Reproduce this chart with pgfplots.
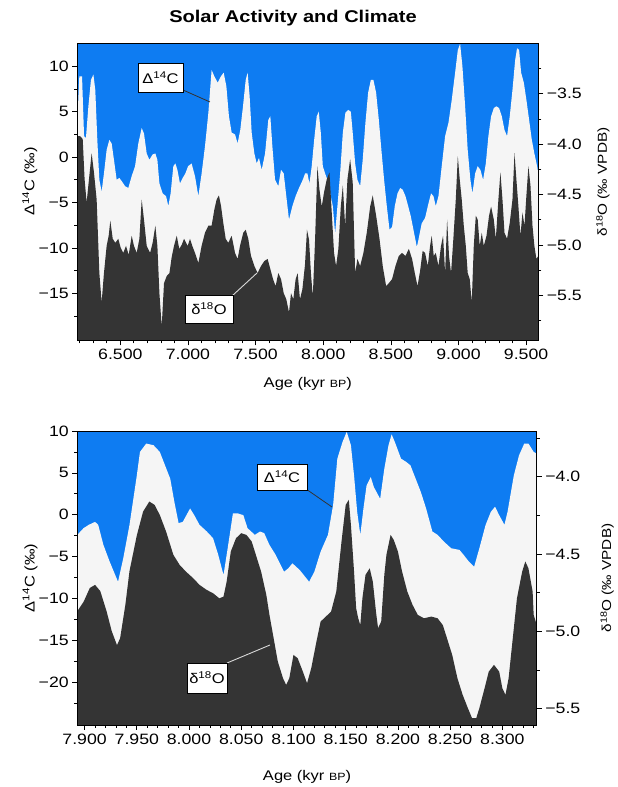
\documentclass[border=0pt]{standalone}
\usepackage{fontspec}
\setmainfont{Liberation Sans}[FakeStretch=1.18]
\usepackage{pgfplots}
\usepackage{pgfplotstable}
\pgfplotsset{compat=1.18}
\definecolor{skyb}{RGB}{14,124,242}
\definecolor{darkf}{RGB}{52,52,52}
\definecolor{whitef}{RGB}{245,245,245}

% top panel: Delta14C (permil)
\pgfplotstableread[row sep=\\]{
x y\\
6182 -30\\ 6182 3.8\\ 6197 8.9\\ 6217 8.9\\ 6232 2.3\\ 6246 2.1\\ 6264 5.6\\ 6283 8.5\\ 6301 9.1\\ 6315 7.4\\
6330 1.9\\ 6345 -2.5\\ 6362 -3.8\\ 6379 -1.8\\ 6399 0.8\\ 6419 1.9\\ 6436 1.5\\ 6453 -0.3\\ 6473 -2.5\\ 6493 -2.3\\
6513 -2.7\\ 6535 -3.2\\ 6559 -3.4\\ 6584 -2.1\\ 6609 -1.0\\ 6633 1.5\\ 6658 3.2\\ 6675 2.6\\ 6695 0.4\\ 6715 -0.3\\
6739 0.3\\ 6759 0.4\\ 6774 -0.3\\ 6789 -2.9\\ 6813 -4.0\\ 6838 -4.3\\ 6855 -5.4\\ 6872 -4.0\\ 6892 -1.0\\ 6907 -0.7\\
6922 -1.4\\ 6941 -2.9\\ 6961 -2.3\\ 6981 -1.8\\ 7001 -1.0\\ 7027 -0.7\\ 7052 -2.1\\ 7077 -4.3\\ 7101 -1.8\\ 7126 1.2\\
7151 4.9\\ 7175 9.6\\ 7195 8.9\\ 7220 8.2\\ 7244 8.9\\ 7264 9.3\\ 7284 7.8\\ 7303 4.5\\ 7323 2.7\\ 7348 2.5\\
7367 1.5\\ 7387 3.0\\ 7407 5.6\\ 7427 8.5\\ 7441 9.3\\ 7456 6.7\\ 7471 2.7\\ 7491 0.4\\ 7508 -0.7\\ 7525 -0.1\\
7545 -1.4\\ 7570 0.4\\ 7594 4.1\\ 7609 4.5\\ 7624 1.2\\ 7644 -2.5\\ 7668 -3.2\\ 7688 -1.4\\ 7708 -1.8\\ 7727 -4.3\\
7747 -6.9\\ 7772 -5.4\\ 7796 -4.3\\ 7821 -3.4\\ 7849 -2.5\\ 7866 -1.8\\ 7883 -1.8\\ 7898 -2.9\\ 7915 -1.0\\ 7933 1.9\\
7952 4.5\\ 7967 5.0\\ 7982 2.7\\ 7997 -1.0\\ 8014 -1.8\\ 8031 -2.5\\ 8051 -4.0\\ 8071 -5.4\\ 8088 -8.4\\ 8105 -5.4\\
8125 -1.8\\ 8145 2.7\\ 8164 4.9\\ 8184 5.2\\ 8204 5.0\\ 8218 2.7\\ 8236 -0.7\\ 8253 -2.5\\ 8273 -3.2\\ 8292 -0.3\\
8312 3.8\\ 8332 7.1\\ 8352 8.5\\ 8371 8.5\\ 8391 7.1\\ 8411 4.1\\ 8430 0.8\\ 8450 -2.5\\ 8470 -5.4\\ 8490 -8.0\\
8509 -7.7\\ 8529 -5.4\\ 8549 -4.0\\ 8569 -3.4\\ 8588 -3.6\\ 8608 -4.3\\ 8628 -5.4\\ 8647 -6.5\\ 8667 -8.0\\ 8692 -9.9\\
8704 -9.1\\ 8728 -7.3\\ 8753 -6.7\\ 8778 -5.1\\ 8797 -4.0\\ 8815 -4.3\\ 8832 -5.4\\ 8852 -4.3\\ 8876 -1.0\\ 8901 2.3\\
8926 3.8\\ 8950 6.3\\ 8975 9.3\\ 8995 11.8\\ 9012 12.5\\ 9029 10.0\\ 9049 5.6\\ 9068 0.8\\ 9088 -2.5\\ 9103 -4.0\\
9123 -1.8\\ 9142 -1.0\\ 9162 -1.4\\ 9182 -2.5\\ 9202 -0.7\\ 9221 2.3\\ 9241 4.5\\ 9261 5.4\\ 9280 5.6\\ 9300 5.4\\
9320 4.5\\ 9340 3.0\\ 9359 2.3\\ 9379 4.5\\ 9399 7.4\\ 9419 10.7\\ 9433 12.0\\ 9448 11.8\\ 9463 9.3\\ 9483 8.2\\
9502 6.3\\ 9522 4.1\\ 9542 1.9\\ 9561 0.4\\ 9581 -1.0\\ 9590 -1.8\\ 9590 -30\\
}\topC

% top panel: delta18O (permil VPDB)
\pgfplotstableread[row sep=\\]{
x y\\
6182 -6.2\\ 6182 -3.92\\ 6202 -3.92\\ 6222 -3.95\\ 6236 -4.35\\ 6251 -4.58\\ 6266 -4.38\\ 6288 -4.09\\ 6305 -4.28\\ 6325 -4.55\\
6345 -5.28\\ 6362 -5.57\\ 6379 -5.28\\ 6399 -5.01\\ 6414 -4.91\\ 6426 -4.76\\ 6444 -4.94\\ 6463 -4.98\\ 6485 -4.94\\ 6503 -5.03\\
6522 -5.08\\ 6542 -5.01\\ 6562 -5.10\\ 6584 -4.91\\ 6601 -5.01\\ 6621 -5.08\\ 6641 -4.94\\ 6658 -4.55\\ 6675 -4.75\\ 6695 -5.01\\
6720 -5.08\\ 6739 -4.98\\ 6759 -4.81\\ 6774 -5.01\\ 6789 -5.48\\ 6806 -5.81\\ 6823 -5.38\\ 6843 -5.31\\ 6863 -5.28\\ 6880 -5.12\\
6897 -5.01\\ 6917 -4.91\\ 6936 -5.04\\ 6954 -5.00\\ 6971 -4.94\\ 6998 -5.01\\ 7015 -4.94\\ 7032 -5.01\\ 7052 -5.08\\ 7077 -5.18\\
7101 -5.01\\ 7126 -4.88\\ 7151 -4.81\\ 7175 -4.81\\ 7195 -4.65\\ 7212 -4.55\\ 7229 -4.51\\ 7244 -4.61\\ 7261 -4.78\\ 7279 -4.94\\
7298 -4.98\\ 7323 -4.91\\ 7348 -5.08\\ 7367 -5.14\\ 7385 -5.01\\ 7409 -4.88\\ 7427 -4.85\\ 7446 -4.94\\ 7466 -5.11\\ 7491 -5.21\\
7515 -5.28\\ 7540 -5.21\\ 7565 -5.16\\ 7589 -5.14\\ 7609 -5.24\\ 7629 -5.34\\ 7648 -5.41\\ 7668 -5.28\\ 7688 -5.34\\ 7708 -5.48\\
7727 -5.54\\ 7747 -5.67\\ 7762 -5.48\\ 7779 -5.54\\ 7796 -5.34\\ 7811 -5.28\\ 7828 -5.54\\ 7846 -5.44\\ 7865 -5.20\\ 7880 -4.85\\
7895 -4.95\\ 7910 -5.30\\ 7923 -5.51\\ 7940 -4.94\\ 7957 -4.22\\ 7972 -4.45\\ 7989 -4.62\\ 8006 -4.48\\ 8026 -4.35\\ 8046 -4.28\\
8063 -4.68\\ 8080 -5.08\\ 8095 -5.21\\ 8112 -5.04\\ 8130 -4.62\\ 8145 -4.41\\ 8162 -4.81\\ 8179 -4.35\\ 8199 -4.15\\ 8218 -4.38\\
8236 -5.28\\ 8253 -5.14\\ 8273 -5.21\\ 8297 -5.08\\ 8322 -4.88\\ 8347 -4.62\\ 8366 -4.51\\ 8391 -4.71\\ 8416 -4.94\\ 8440 -5.21\\
8465 -5.41\\ 8485 -5.38\\ 8509 -5.34\\ 8534 -5.21\\ 8559 -5.11\\ 8583 -5.08\\ 8608 -5.11\\ 8633 -5.04\\ 8657 -5.14\\ 8677 -5.28\\
8697 -5.41\\ 8716 -5.26\\ 8735 -5.06\\ 8753 -5.08\\ 8773 -5.21\\ 8790 -5.01\\ 8802 -4.91\\ 8817 -5.11\\ 8832 -5.08\\ 8852 -5.21\\
8871 -5.01\\ 8886 -4.91\\ 8901 -5.28\\ 8916 -4.75\\ 8930 -5.11\\ 8945 -5.28\\ 8962 -4.94\\ 8980 -4.55\\ 8995 -4.12\\ 9009 -4.35\\
9024 -4.55\\ 9039 -4.81\\ 9054 -5.01\\ 9068 -5.28\\ 9083 -5.34\\ 9098 -5.57\\ 9113 -5.01\\ 9128 -4.71\\ 9142 -4.75\\ 9157 -5.01\\
9172 -4.88\\ 9187 -5.01\\ 9207 -4.91\\ 9226 -4.71\\ 9241 -4.62\\ 9261 -4.75\\ 9276 -4.94\\ 9295 -4.55\\ 9310 -4.28\\ 9325 -4.55\\
9340 -4.88\\ 9359 -4.94\\ 9379 -4.78\\ 9399 -4.55\\ 9414 -4.09\\ 9428 -4.35\\ 9443 -4.62\\ 9458 -4.91\\ 9473 -4.68\\ 9488 -4.81\\
9502 -4.51\\ 9517 -4.22\\ 9532 -4.41\\ 9547 -4.81\\ 9561 -5.01\\ 9576 -5.14\\ 9590 -5.11\\ 9590 -6.2\\
}\topO

% bottom panel: Delta14C (permil)
\pgfplotstableread[row sep=\\]{
x y\\
7893 -30\\ 7893 -2.4\\ 7899 -1.6\\ 7904 -1.2\\ 7910 -0.85\\ 7913 -1.2\\ 7918 -3.6\\ 7924 -5.6\\ 7932 -8.0\\ 7937 -5.2\\
7943 -1.2\\ 7950 4.7\\ 7953 7.5\\ 7959 8.5\\ 7966 8.3\\ 7972 7.5\\ 7977 5.9\\ 7982 4.3\\ 7986 1.5\\ 7990 -1.0\\
7994 -0.85\\ 8001 0.75\\ 8005 -0.05\\ 8010 -1.2\\ 8017 -2.0\\ 8023 -2.8\\ 8028 -4.8\\ 8033 -7.2\\ 8037 -4.0\\ 8042 0.15\\
8047 0.15\\ 8052 -0.05\\ 8056 -1.6\\ 8063 -2.4\\ 8068 -2.0\\ 8072 -2.2\\ 8077 -3.6\\ 8083 -4.8\\ 8091 -6.8\\ 8095 -6.4\\
8099 -5.8\\ 8106 -6.6\\ 8115 -8.0\\ 8120 -6.8\\ 8126 -4.4\\ 8133 -2.4\\ 8138 1.2\\ 8142 6.7\\ 8147 8.7\\ 8151 9.9\\
8155 8.3\\ 8158 4.7\\ 8161 0.35\\ 8164 -2.4\\ 8167 0.75\\ 8170 3.5\\ 8174 4.5\\ 8177 3.3\\ 8183 1.9\\ 8187 5.5\\
8191 8.3\\ 8194 9.6\\ 8197 8.7\\ 8203 6.7\\ 8208 6.3\\ 8212 5.9\\ 8217 4.3\\ 8222 2.7\\ 8227 0.75\\ 8233 -2.0\\
8238 -2.4\\ 8244 -3.2\\ 8251 -4.0\\ 8259 -4.2\\ 8263 -4.8\\ 8268 -5.6\\ 8273 -6.2\\ 8278 -4.0\\ 8284 -1.2\\ 8289 0.35\\
8293 0.95\\ 8297 -0.05\\ 8302 -1.2\\ 8305 0.35\\ 8311 4.7\\ 8316 7.1\\ 8321 8.5\\ 8325 8.5\\ 8330 7.5\\ 8333 7.3\\
8333 -30\\
}\botC

% bottom panel: delta18O (permil VPDB)
\pgfplotstableread[row sep=\\]{
x y\\
7893 -5.8\\ 7893 -4.87\\ 7899 -4.81\\ 7905 -4.72\\ 7910 -4.70\\ 7915 -4.74\\ 7921 -4.87\\ 7926 -5.00\\ 7931 -5.09\\ 7934 -5.045\\
7939 -4.83\\ 7943 -4.61\\ 7950 -4.38\\ 7956 -4.226\\ 7962 -4.161\\ 7967 -4.183\\ 7972 -4.248\\ 7978 -4.355\\ 7985 -4.506\\ 7991 -4.571\\
7997 -4.614\\ 8004 -4.657\\ 8010 -4.70\\ 8017 -4.733\\ 8023 -4.754\\ 8029 -4.787\\ 8033 -4.776\\ 8036 -4.68\\ 8040 -4.484\\ 8045 -4.398\\
8050 -4.366\\ 8055 -4.377\\ 8060 -4.42\\ 8064 -4.506\\ 8069 -4.614\\ 8074 -4.765\\ 8077 -4.894\\ 8081 -5.045\\ 8085 -5.196\\ 8090 -5.304\\
8093 -5.347\\ 8096 -5.304\\ 8100 -5.153\\ 8104 -5.174\\ 8109 -5.261\\ 8113 -5.336\\ 8117 -5.239\\ 8122 -5.067\\ 8126 -4.937\\ 8131 -4.905\\
8136 -4.873\\ 8141 -4.743\\ 8146 -4.42\\ 8150 -4.183\\ 8153 -4.15\\ 8155 -4.312\\ 8158 -4.614\\ 8160 -4.851\\ 8162 -4.916\\ 8164 -4.96\\
8166 -4.787\\ 8169 -4.635\\ 8173 -4.593\\ 8176 -4.68\\ 8179 -4.873\\ 8181 -4.98\\ 8184 -4.937\\ 8187 -4.635\\ 8189 -4.506\\ 8193 -4.377\\
8196 -4.409\\ 8200 -4.484\\ 8204 -4.614\\ 8209 -4.743\\ 8214 -4.829\\ 8219 -4.894\\ 8225 -4.916\\ 8232 -4.905\\ 8238 -4.916\\ 8243 -4.96\\
8247 -5.045\\ 8252 -5.153\\ 8257 -5.304\\ 8262 -5.411\\ 8267 -5.497\\ 8271 -5.562\\ 8275 -5.562\\ 8278 -5.497\\ 8283 -5.368\\ 8287 -5.261\\
8292 -5.217\\ 8297 -5.261\\ 8300 -5.368\\ 8303 -5.411\\ 8306 -5.304\\ 8310 -5.045\\ 8314 -4.787\\ 8319 -4.614\\ 8322 -4.549\\ 8325 -4.593\\
8329 -4.743\\ 8330 -4.894\\ 8333 -4.96\\ 8333 -5.8\\
}\botO

\pgfplotsset{
  panel/.style={
    scale only axis, anchor=south west, axis on top,
    tick align=outside, major tick length=5pt, minor tick length=3pt,
    tick style={black, line width=0.7pt},
    axis line style={line width=0.8pt},
    tick label style={font=\fontsize{15}{15}\selectfont},
    label style={font=\fontsize{14}{14}\selectfont},
  },
}

\begin{document}
\begin{tikzpicture}
\path[use as bounding box] (0,0) rectangle (618pt,787pt);
\node[font=\bfseries\fontsize{17}{17}\selectfont] at (293pt,769pt) {Solar Activity and Climate};

% ---------------- top panel ----------------
\begin{axis}[panel, at={(77.3pt,446.5pt)}, width=461pt, height=297.5pt,
  xmin=6182, xmax=9590, ymin=-20.2, ymax=12.57,
  axis background/.style={fill=skyb},
  xtick pos=left, ytick pos=left,
  xtick={6500,7000,7500,8000,8500,9000,9500},
  xticklabels={6.500,7.000,7.500,8.000,8.500,9.000,9.500},
  minor xtick={6200,6300,...,9500},
  ytick={-15,-10,-5,0,5,10}, yticklabels={−15,−10,−5,0,5,10},
  minor ytick={-17.5,-12.5,-7.5,-2.5,2.5,7.5},
  xlabel={Age (kyr {\fontsize{10.5}{10}\selectfont BP})},
  xlabel style={at={(axis description cs:0.5,-0.145)}, anchor=center},
  ylabel={Δ\textsuperscript{14}C (‰)},
  ylabel style={at={(axis description cs:-0.103,0.535)}, anchor=center},
]
\addplot[fill=whitef, draw=none] table {\topC};
\end{axis}
\begin{axis}[panel, at={(77.3pt,446.5pt)}, width=461pt, height=297.5pt,
  xmin=6182, xmax=9590, ymin=-5.949, ymax=-2.997,
  xtick=\empty, ytick pos=right, yticklabel pos=right,
  ytick={-5.5,-5.0,-4.5,-4.0,-3.5}, yticklabels={−5.5,−5.0,−4.5,−4.0,−3.5},
  minor ytick={-5.75,-5.25,-4.75,-4.25,-3.75,-3.25},
  ylabel={δ\textsuperscript{18}O (‰ VPDB)},
  ylabel style={at={(axis description cs:1.14,0.533)}, anchor=center, font=\fontsize{13}{13}\selectfont},
]
\addplot[fill=darkf, draw=none] table {\topO};
\end{axis}

% ---------------- bottom panel ----------------
\begin{axis}[panel, at={(77.3pt,62pt)}, width=459.5pt, height=294pt,
  xmin=7893, xmax=8333, ymin=-25.1, ymax=10,
  axis background/.style={fill=skyb},
  xtick pos=left, ytick pos=left,
  xtick={7900,7950,8000,8050,8100,8150,8200,8250,8300},
  xticklabels={7.900,7.950,8.000,8.050,8.100,8.150,8.200,8.250,8.300},
  minor xtick={7900,7910,...,8330},
  ytick={-20,-15,-10,-5,0,5,10}, yticklabels={−20,−15,−10,−5,0,5,10},
  minor ytick={-22.5,-17.5,-12.5,-7.5,-2.5,2.5,7.5},
  xlabel={Age (kyr {\fontsize{10.5}{10}\selectfont BP})},
  xlabel style={at={(axis description cs:0.5,-0.175)}, anchor=center},
  ylabel={Δ\textsuperscript{14}C (‰)},
  ylabel style={at={(axis description cs:-0.103,0.5)}, anchor=center},
]
\addplot[fill=whitef, draw=none] table {\botC};
\end{axis}
\begin{axis}[panel, at={(77.3pt,62pt)}, width=459.5pt, height=294pt,
  xmin=7893, xmax=8333, ymin=-5.606, ymax=-3.705,
  xtick=\empty, ytick pos=right, yticklabel pos=right,
  ytick={-5.5,-5.0,-4.5,-4.0}, yticklabels={−5.5,−5.0,−4.5,−4.0},
  minor ytick={-5.25,-4.75,-4.25,-3.75},
  ylabel={δ\textsuperscript{18}O (‰ VPDB)},
  ylabel style={at={(axis description cs:1.153,0.5)}, anchor=center, font=\fontsize{13}{13}\selectfont},
]
\addplot[fill=darkf, draw=none] table {\botO};
\end{axis}

% ---------------- curve labels ----------------
\tikzset{lab/.style={draw=black, fill=white, line width=0.6pt, inner sep=2pt,
  font=\fontsize{14}{14}\selectfont}}
\draw[line width=0.8pt, black!80] (183pt,697pt) -- (210pt,685pt);
\node[lab, minimum width=45pt, minimum height=29pt] at (160.5pt,709.5pt) {Δ\textsuperscript{14}C};
\draw[line width=0.9pt, white!85!black] (232pt,491pt) -- (257pt,514pt);
\node[lab, minimum width=48pt, minimum height=28pt] at (209pt,478pt) {δ\textsuperscript{18}O};
\draw[line width=0.8pt, black!80] (306pt,298pt) -- (332pt,280pt);
\node[lab, minimum width=50pt, minimum height=26pt] at (282pt,310pt) {Δ\textsuperscript{14}C};
\draw[line width=0.9pt, white!85!black] (227pt,124pt) -- (270pt,142pt);
\node[lab, minimum width=40pt, minimum height=30pt] at (207pt,109pt) {δ\textsuperscript{18}O};
\end{tikzpicture}
\end{document}
